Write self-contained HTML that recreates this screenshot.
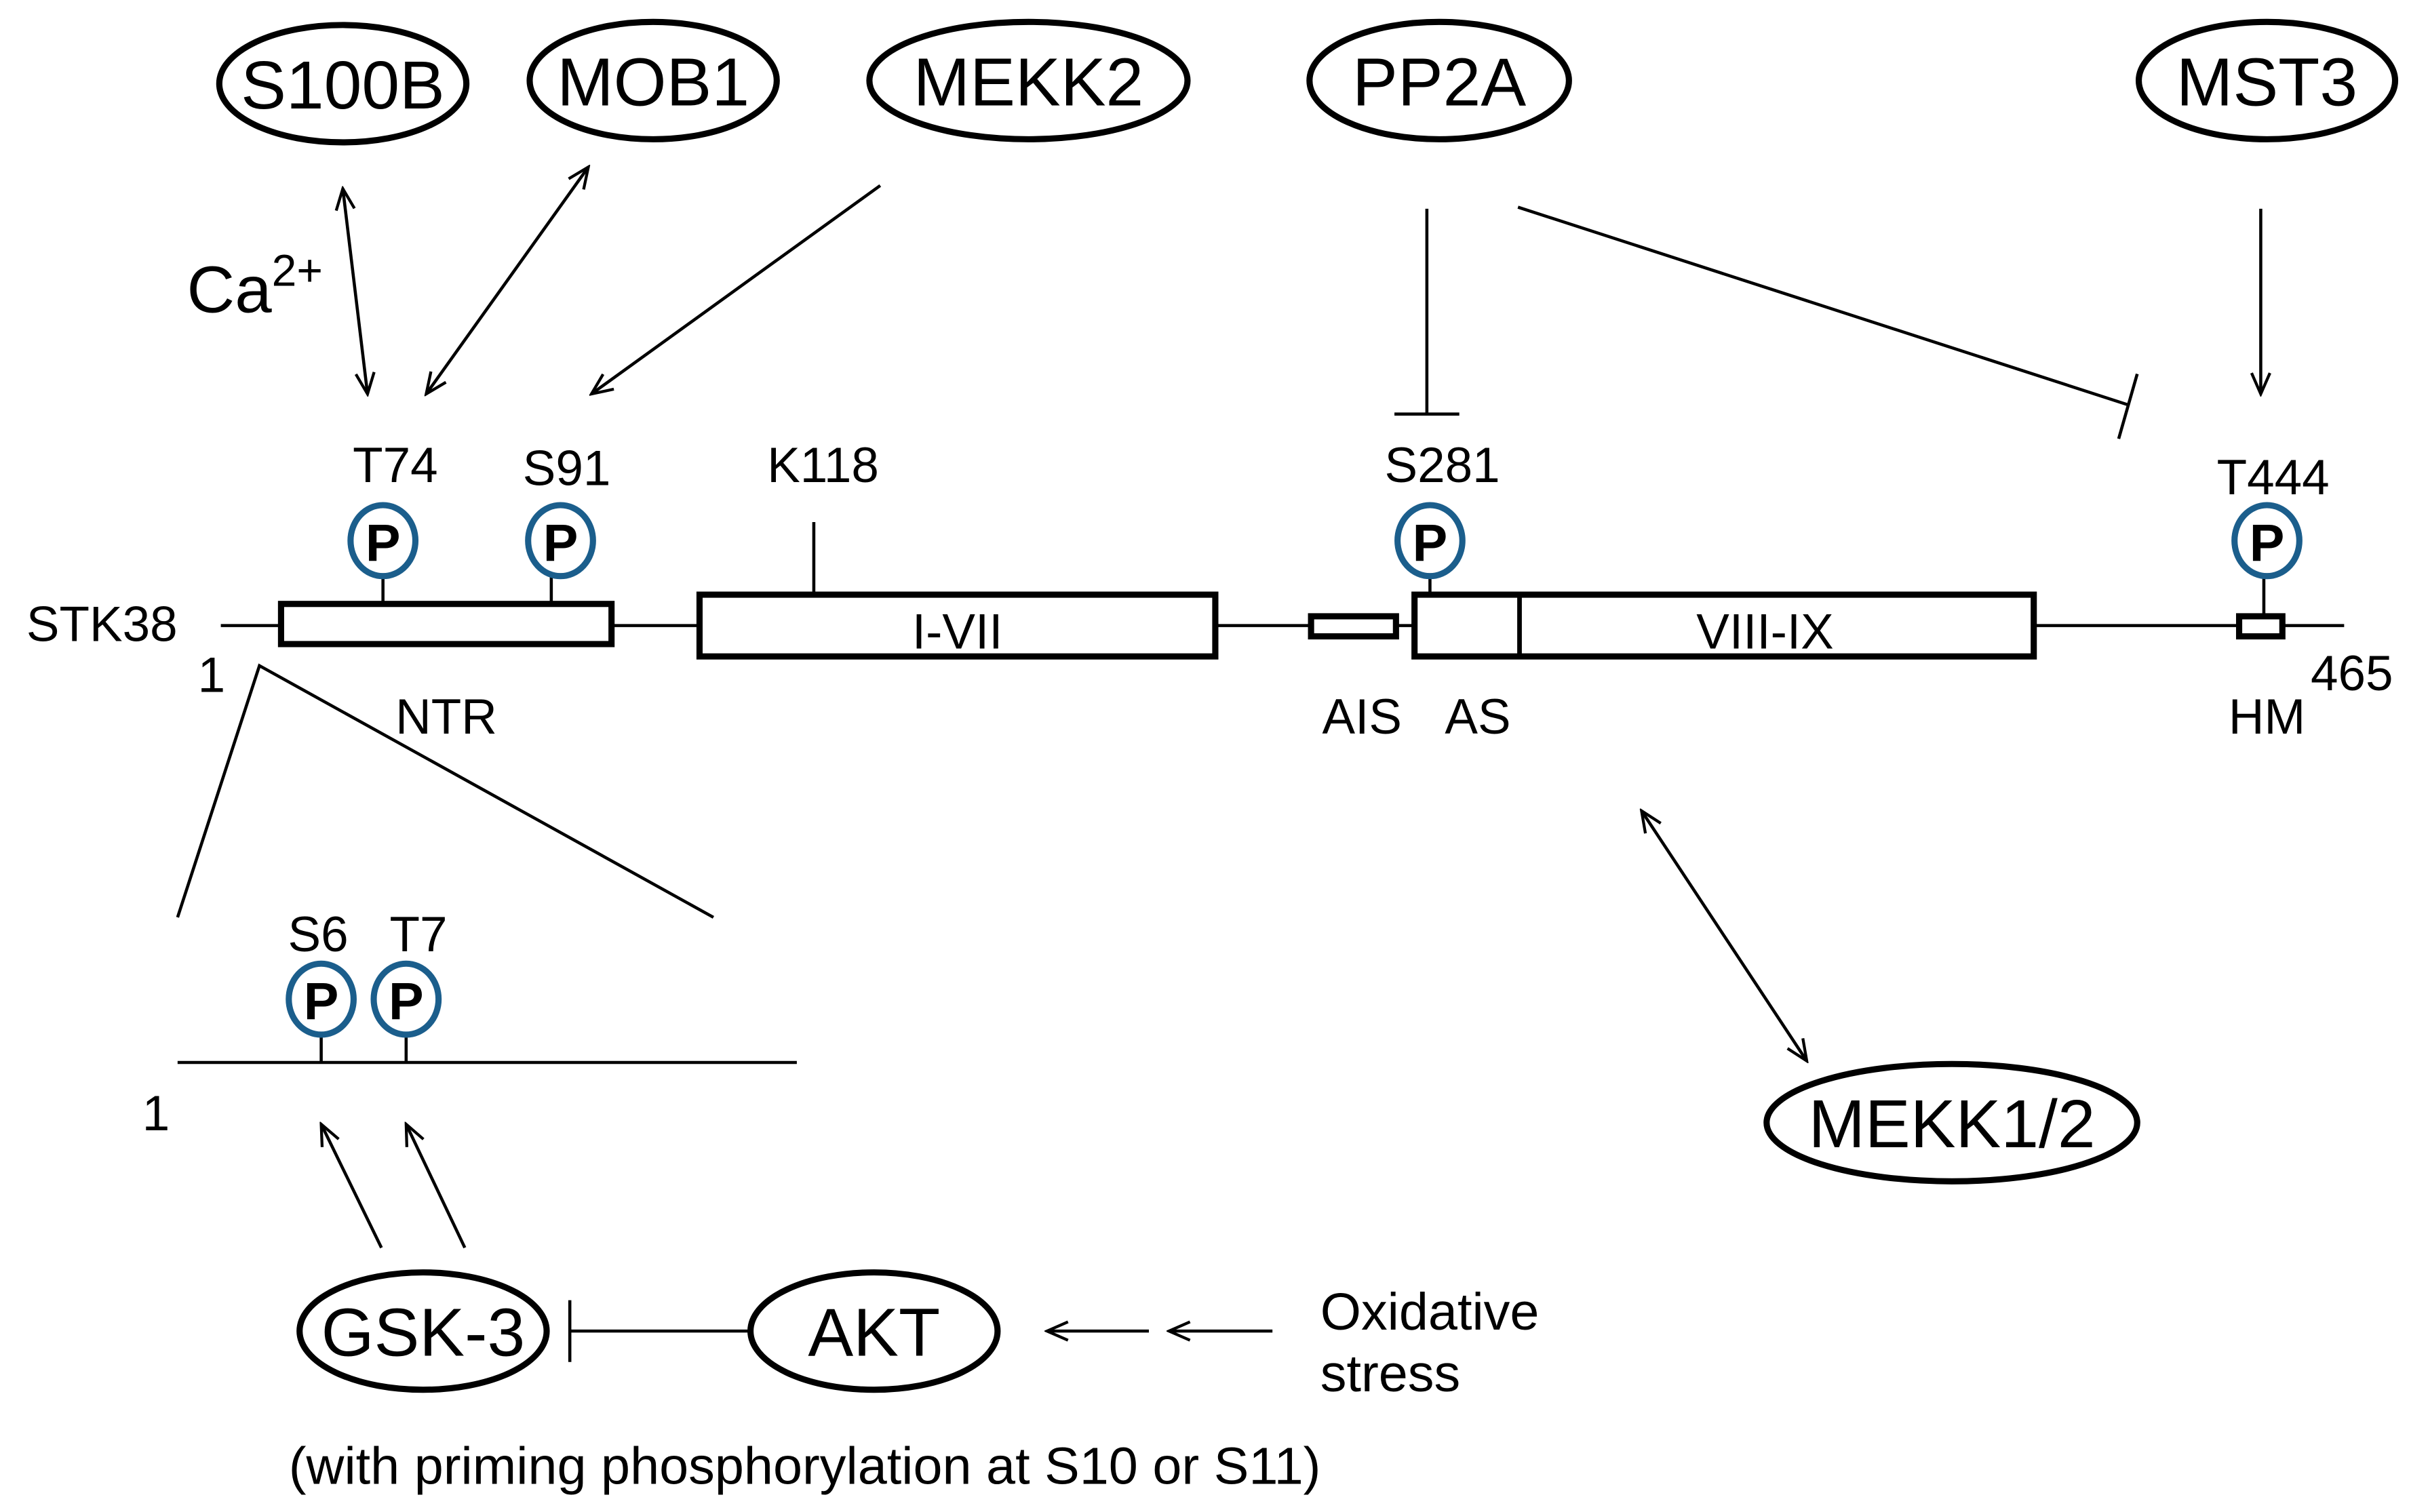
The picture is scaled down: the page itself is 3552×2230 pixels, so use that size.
<!DOCTYPE html>
<html><head><meta charset="utf-8"><style>
html,body{margin:0;padding:0;background:#fff;}
svg{display:block;}
text{font-family:"Liberation Sans",Arial,sans-serif;fill:#000;}
</style></head><body>
<svg width="3552" height="2230" viewBox="0 0 1560 979" xmlns="http://www.w3.org/2000/svg">
<defs>
<marker id="a" viewBox="0 0 20 20" refX="18" refY="10" markerWidth="17" markerHeight="17" markerUnits="userSpaceOnUse" orient="auto-start-reverse">
<polyline points="2,3 18,10 2,17" fill="none" stroke="#000" stroke-width="2.2"/>
</marker>
</defs>
<g fill="#fff" stroke="#000" stroke-width="4">
<ellipse cx="222" cy="54" rx="80" ry="38"/>
<ellipse cx="423" cy="52" rx="80" ry="38"/>
<ellipse cx="666" cy="52" rx="103" ry="38"/>
<ellipse cx="932" cy="52" rx="84" ry="38"/>
<ellipse cx="1468" cy="52" rx="83" ry="38"/>
<ellipse cx="1264" cy="727" rx="120" ry="38"/>
<ellipse cx="274" cy="862" rx="80" ry="38"/>
<ellipse cx="566" cy="862" rx="80" ry="38"/>
</g>
<g font-size="44" text-anchor="middle">
<text x="222" y="70">S100B</text>
<text x="423" y="68">MOB1</text>
<text x="666" y="68">MEKK2</text>
<text x="932" y="68">PP2A</text>
<text x="1468" y="68">MST3</text>
<text x="1264" y="743">MEKK1/2</text>
<text x="274" y="878">GSK-3</text>
<text x="566" y="878">AKT</text>
</g>
<text x="121" y="202" font-size="43">Ca<tspan font-size="29" dy="-17">2+</tspan></text>
<g stroke="#000" stroke-width="2" fill="none">
<line x1="143" y1="405" x2="1518" y2="405"/>
<line x1="222" y1="122" x2="238" y2="255" marker-start="url(#a)" marker-end="url(#a)"/>
<line x1="381" y1="108" x2="276" y2="255" marker-start="url(#a)" marker-end="url(#a)"/>
<line x1="570" y1="120" x2="383" y2="255" marker-end="url(#a)"/>
<line x1="924" y1="135" x2="924" y2="268"/>
<line x1="903" y1="268" x2="945" y2="268"/>
<line x1="983" y1="134" x2="1378" y2="262"/>
<line x1="1384" y1="242" x2="1372" y2="284"/>
<line x1="1464" y1="135" x2="1464" y2="255" marker-end="url(#a)"/>
<line x1="1063" y1="525" x2="1170" y2="687" marker-start="url(#a)" marker-end="url(#a)"/>
<polyline points="115,594 168,431 462,594"/>
<line x1="115" y1="688" x2="516" y2="688"/>
<line x1="247" y1="808" x2="208" y2="728" marker-end="url(#a)"/>
<line x1="301" y1="808" x2="263" y2="728" marker-end="url(#a)"/>
<line x1="369" y1="862" x2="487" y2="862"/>
<line x1="369" y1="842" x2="369" y2="882"/>
<line x1="744" y1="862" x2="678" y2="862" marker-end="url(#a)"/>
<line x1="824" y1="862" x2="757" y2="862" marker-end="url(#a)"/>
<line x1="527" y1="338" x2="527" y2="384"/>
<line x1="248" y1="372" x2="248" y2="390"/>
<line x1="357" y1="372" x2="357" y2="390"/>
<line x1="926" y1="372" x2="926" y2="384"/>
<line x1="1466" y1="372" x2="1466" y2="398"/>
<line x1="208" y1="670" x2="208" y2="688"/>
<line x1="263" y1="670" x2="263" y2="688"/>
</g>
<g fill="#fff" stroke="#000" stroke-width="4">
<rect x="182" y="391" width="214" height="26"/>
<rect x="453" y="385" width="334" height="40"/>
<rect x="849" y="399" width="55" height="13"/>
<rect x="916" y="385" width="401" height="40"/>
<rect x="1450" y="399" width="28" height="13"/>
</g>
<line x1="984" y1="385" x2="984" y2="425" stroke="#000" stroke-width="3"/>
<g fill="#fff" stroke="#1b5e8c" stroke-width="4">
<ellipse cx="248" cy="350" rx="21" ry="23"/>
<ellipse cx="363" cy="350" rx="21" ry="23"/>
<ellipse cx="926" cy="350" rx="21" ry="23"/>
<ellipse cx="1468" cy="350" rx="21" ry="23"/>
<ellipse cx="208" cy="647" rx="21" ry="23"/>
<ellipse cx="263" cy="647" rx="21" ry="23"/>
</g>
<g font-size="34" font-weight="bold" text-anchor="middle">
<text x="248" y="363">P</text>
<text x="363" y="363">P</text>
<text x="926" y="363">P</text>
<text x="1468" y="363">P</text>
<text x="208" y="660">P</text>
<text x="263" y="660">P</text>
</g>
<g font-size="32" text-anchor="middle">
<text x="256" y="312">T74</text>
<text x="367" y="314">S91</text>
<text x="533" y="312">K118</text>
<text x="934" y="312">S281</text>
<text x="1472" y="320">T444</text>
<text x="66" y="415">STK38</text>
<text x="137" y="448">1</text>
<text x="289" y="475">NTR</text>
<text x="620" y="420">I-VII</text>
<text x="1143" y="420">VIII-IX</text>
<text x="882" y="475">AIS</text>
<text x="957" y="475">AS</text>
<text x="1468" y="475">HM</text>
<text x="1523" y="447">465</text>
<text x="206" y="616">S6</text>
<text x="271" y="616">T7</text>
<text x="101" y="732">1</text>
</g>
<g font-size="34">
<text x="855" y="861">Oxidative</text>
<text x="855" y="901">stress</text>
<text x="187" y="961">(with priming phosphorylation at S10 or S11)</text>
</g>
</svg>
</body></html>
